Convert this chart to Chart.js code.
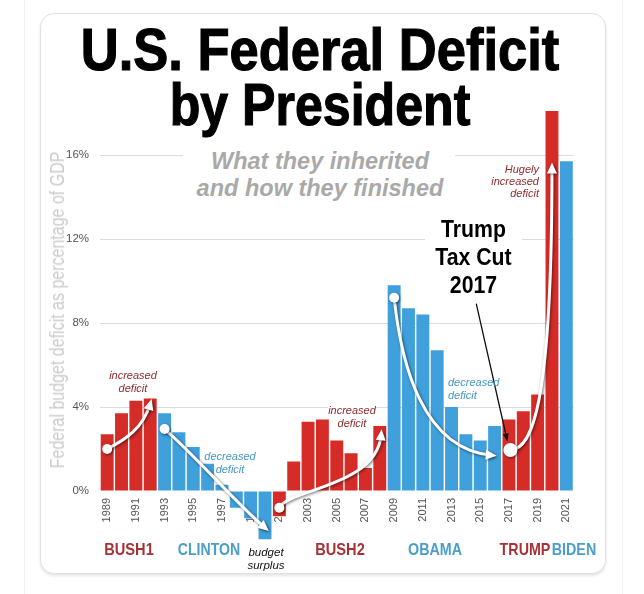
<!DOCTYPE html>
<html>
<head>
<meta charset="utf-8">
<script src="https://cdn.jsdelivr.net/npm/chart.js@4"></script>
<style>
  html, body { margin: 0; padding: 0; background: #fff; }
  body { width: 644px; height: 594px; position: relative; overflow: hidden; font-family: "Liberation Sans", Arial, sans-serif; }
  .rule { position: absolute; top: 0; bottom: 0; width: 1px; background: #eef0f3; }
  .card { position: absolute; left: 40px; top: 13px; width: 564px; height: 559px; border: 1px solid #dde1e6; border-radius: 14px; background: #fff; box-shadow: 0 2px 3px rgba(0,0,0,0.10); }
  #wrap { position: absolute; left: 0; top: 0; width: 644px; height: 594px; }
  .t { position: absolute; white-space: nowrap; }
  .c { transform: translateX(-50%); text-align: center; }
  .title { font-weight: bold; font-size: 60px; line-height: 55px; color: #000; left: 320px; -webkit-text-stroke: 1.2px #000; }
  .note { font-style: italic; font-size: 11px; }
  .red { color: #8e2a2e; }
  .blue { color: #4496c6; }
  .party { font-weight: bold; font-size: 17px; line-height: 17px; top: 540.6px; }
</style>
</head>
<body>
<div class="rule" style="left:24px"></div>
<div class="rule" style="left:622px"></div>
<div class="card"></div>
<div id="wrap"><canvas id="chart" width="644" height="594"></canvas></div>

<!-- title + subtitle -->
<div class="t title" style="top:21.7px; transform: translateX(-50%) scaleX(0.875);">U.S. Federal Deficit</div>
<div class="t title" style="top:76.7px; transform: translateX(-50%) scaleX(0.835);">by President</div>
<div class="t" style="left:183px; top:145px; width:272px; height:58px; background:#fff;"></div>
<div class="t c" style="left:320px; top:148.4px; font: italic bold 23.5px/27px 'Liberation Sans', Arial, sans-serif; color:#a9a9a9;">What they inherited<br>and how they finished</div>

<!-- y axis title -->
<div class="t" style="left:57px; top:310px; font-size:20px; line-height:20px; color:#cbcbcb; transform: translate(-50%,-50%) rotate(-90deg) scaleX(0.8);">Federal budget deficit as percentage of GDP</div>

<!-- annotations -->
<div class="t c note red" style="left:133px; top:369.2px; line-height:13px;">increased<br>deficit</div>
<div class="t c note blue" style="left:230px; top:450px; line-height:12.5px;">decreased<br>deficit</div>
<div class="t c note red" style="left:352px; top:404px; line-height:12.5px;"><span style="background:#fff">increased</span><br>deficit</div>
<div class="t note blue" style="left:448px; top:375.7px; line-height:13px;">decreased<br>deficit</div>
<div class="t note red" style="right:105px; top:163px; line-height:12px; text-align:right;">Hugely<br>increased<br>deficit</div>
<div class="t" style="left:425px; top:212px; width:97px; height:86px; background:#fff;">
  <div style="margin-top:2.7px; font-weight:bold; font-size:24px; line-height:28px; text-align:center; color:#000; transform: scaleX(0.886);">Trump<br>Tax Cut<br>2017</div>
</div>
<div class="t c note" style="left:266px; top:545.5px; font-size:11.5px; line-height:13px; color:#111;">budget<br>surplus</div>

<!-- president labels -->
<div class="t party" style="left:129px; color:#a63238; transform: translateX(-50%) scaleX(0.86);">BUSH1</div>
<div class="t party" style="left:209px; color:#4a9ec9; transform: translateX(-50%) scaleX(0.83);">CLINTON</div>
<div class="t party" style="left:340px; color:#a63238; transform: translateX(-50%) scaleX(0.86);">BUSH2</div>
<div class="t party" style="left:435px; color:#4a9ec9; transform: translateX(-50%) scaleX(0.84);">OBAMA</div>
<div class="t party" style="left:524.5px; color:#a63238; transform: translateX(-50%) scaleX(0.84);">TRUMP</div>
<div class="t party" style="left:573.5px; color:#4a9ec9; transform: translateX(-50%) scaleX(0.84);">BIDEN</div>

<script>
// data
const years = ['1989','1990','1991','1992','1993','1994','1995','1996','1997','1998','1999','2000',
               '2001','2002','2003','2004','2005','2006','2007','2008','2009','2010','2011','2012',
               '2013','2014','2015','2016','2017','2018','2019','2020','2021'];
const deficit = [2.7, 3.7, 4.3, 4.4, 3.7, 2.8, 2.1, 1.3, 0.3, -0.8, -1.3, -2.3,
                 -1.2, 1.4, 3.3, 3.4, 2.4, 1.8, 1.1, 3.1, 9.8, 8.7, 8.4, 6.7,
                 4.0, 2.7, 2.4, 3.1, 3.4, 3.8, 4.6, 18.1, 15.7];
const party = ['R','R','R','R','D','D','D','D','D','D','D','D',
               'R','R','R','R','R','R','R','R','D','D','D','D',
               'D','D','D','D','R','R','R','R','D'];
const yTicks = [0, 4, 8, 12, 16];

// trend arrows, in (bar index, % of GDP)
const arrows = [
  { from: [0, 2.0],    c1: [1.3, 2.45],  c2: [2.5, 3.0],  to: [3.0, 4.15], r: 5 },
  { from: [4, 2.95],   c1: [6.3, 1.6],   c2: [8.7, -0.4], to: [11.0, -1.75], r: 5 },
  { from: [12, -0.8],  c1: [12.6, 0.1],  c2: [18.8, 0.2], to: [19.1, 2.7], r: 5 },
  { from: [20, 9.2],   c1: [20.5, 6.0],  c2: [22.0, 2.0], to: [26.8, 1.7], r: 5 },
  { from: [28.1, 1.95], c1: [29.6, 2.0], c2: [31.0, 4.0], to: [31.0, 15.4], r: 7 }
];
const taxCutLine = { from: [25.73, 8.9], to: [27.85, 2.5] };

const RED = '#d52c28';
const BLUE = '#3fa0dc';

function head(ctx, tip, ang, len, half, color) {
  const bx = tip[0] - Math.cos(ang) * len, by = tip[1] - Math.sin(ang) * len;
  ctx.fillStyle = color;
  ctx.beginPath();
  ctx.moveTo(tip[0], tip[1]);
  ctx.lineTo(bx + Math.sin(ang) * half, by - Math.cos(ang) * half);
  ctx.lineTo(bx - Math.sin(ang) * half, by + Math.cos(ang) * half);
  ctx.closePath();
  ctx.fill();
}

const arrowPlugin = {
  id: 'arrows',
  afterDatasetsDraw(chart) {
    const { ctx, scales: { x, y } } = chart;
    const px = p => [x.getPixelForValue(p[0]), y.getPixelForValue(p[1])];
    ctx.save();
    arrows.forEach(a => {
      const p0 = px(a.from), c1 = px(a.c1), c2 = px(a.c2), p3 = px(a.to);
      const ang = Math.atan2(p3[1] - c2[1], p3[0] - c2[0]);
      ctx.shadowColor = 'rgba(0,0,0,0.55)';
      ctx.shadowBlur = 3;
      ctx.shadowOffsetX = 1;
      ctx.shadowOffsetY = 1;
      ctx.strokeStyle = '#fff';
      ctx.lineWidth = 3;
      ctx.lineCap = 'round';
      ctx.beginPath();
      ctx.moveTo(p0[0], p0[1]);
      ctx.bezierCurveTo(c1[0], c1[1], c2[0], c2[1], p3[0], p3[1]);
      ctx.stroke();
      head(ctx, [p3[0] + Math.cos(ang) * 5, p3[1] + Math.sin(ang) * 5], ang, 11, 5, '#fff');
      ctx.beginPath();
      ctx.arc(p0[0], p0[1], a.r, 0, Math.PI * 2);
      ctx.fillStyle = '#fff';
      ctx.fill();
    });
    // thin black pointer from the tax cut note
    ctx.shadowColor = 'transparent';
    const a = px(taxCutLine.from), b = px(taxCutLine.to);
    const ang = Math.atan2(b[1] - a[1], b[0] - a[0]);
    ctx.strokeStyle = '#111';
    ctx.lineWidth = 1.3;
    ctx.beginPath();
    ctx.moveTo(a[0], a[1]);
    ctx.lineTo(b[0], b[1]);
    ctx.stroke();
    head(ctx, [b[0] + Math.cos(ang) * 3, b[1] + Math.sin(ang) * 3], ang, 8, 3, '#111');
    ctx.restore();
  }
};

new Chart(document.getElementById('chart'), {
  type: 'bar',
  data: {
    labels: years,
    datasets: [{
      data: deficit,
      backgroundColor: party.map(p => p === 'R' ? RED : BLUE),
      barPercentage: 0.9,
      categoryPercentage: 1
    }]
  },
  options: {
    responsive: false,
    animation: false,
    devicePixelRatio: 1,
    layout: { padding: { left: 0, right: 70.5, top: 102.5, bottom: 48.4 } },
    plugins: { legend: { display: false }, tooltip: { enabled: false } },
    scales: {
      x: {
        position: { y: 0 },
        grid: { display: false },
        border: { display: false },
        ticks: {
          autoSkip: false, maxRotation: 90, minRotation: 90, padding: -1,
          color: '#555', font: { size: 11, family: "'Liberation Sans', Arial, sans-serif" },
          callback: (v, i) => i % 2 === 0 ? years[i] : ''
        }
      },
      y: {
        min: -2.6, max: 18.5,
        afterFit: s => { s.width = 100; },
        afterBuildTicks: s => { s.ticks = yTicks.map(v => ({ value: v })); },
        grid: { color: c => (c.tick && c.tick.value === 0) ? 'rgba(0,0,0,0)' : '#dcdcdc', drawTicks: false },
        border: { display: false },
        ticks: {
          padding: 11, color: '#555',
          font: { size: 11.5, family: "'Liberation Sans', Arial, sans-serif" },
          callback: v => v + '%'
        }
      }
    }
  },
  plugins: [arrowPlugin]
});
</script>
</body>
</html>
